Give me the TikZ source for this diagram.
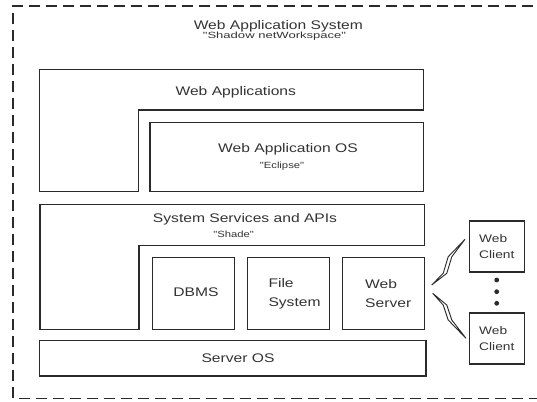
\documentclass[tikz,border=0pt]{standalone}
\usepackage{fontspec}
\setmainfont{Liberation Sans}
\newfontfamily\widefont[FakeStretch=1.25]{Liberation Sans}
\newfontfamily\subfont[FakeStretch=1.45]{Liberation Sans}
\definecolor{ink}{HTML}{2A2A2A}
\definecolor{txt}{HTML}{333333}
\tikzset{
  box/.style={draw=ink, line width=1.5pt, fill=white, inner sep=0pt},
  lshape/.style={draw=ink, line width=1.5pt, fill=white, line join=miter},
  outer/.style={draw=ink, line width=1.5pt, dash pattern=on 11pt off 6pt},
  lbl/.style={text=txt, inner sep=0pt, font=\widefont\fontsize{12.5}{15}\selectfont},
  small/.style={text=txt, inner sep=0pt, font=\widefont\fontsize{9}{10}\selectfont},
  client/.style={text=txt, inner sep=0pt, align=left, font=\widefont\fontsize{11}{15.5}\selectfont},
  bolt/.style={draw=ink, line width=0.9pt, fill=white, line join=miter},
  dotb/.style={fill=ink, draw=none}
}
\begin{document}
\begin{tikzpicture}[x=1pt,y=-1pt]
\useasboundingbox (0,0) rectangle (537,401);
\clip (0,0) rectangle (537,401);
\draw[outer] (550,6) -- (13,6) -- (13,398.5) -- (550,398.5);

% titles
\node[lbl] (title) at (278.3,26) {Web Application System};
\node[text=txt, inner sep=0pt, font=\subfont\fontsize{9}{10}\selectfont] (subtitle) at (274.5,36) {"Shadow netWorkspace"};

% Web Applications L-shape
\draw[lshape] (39.7,69.7) -- (423.3,69.7) -- (423.3,110) -- (138.5,110) -- (138.5,191.7) -- (39.7,191.7) -- cycle;
\node[lbl] (wapps) at (235.8,92.5) {Web Applications};

% Web Application OS
\node[box, minimum width=273.3pt, minimum height=69pt] (waos) at (286.65,157.2) {};
\node[lbl] (waost) at (288,149.5) {Web Application OS};
\node[small] (eclipse) at (282,166) {"Eclipse"};

% System services L-shape
\draw[lshape] (40,204.3) -- (424.3,204.3) -- (424.3,245.7) -- (139,245.7) -- (139,329.3) -- (40,329.3) -- cycle;
\node[lbl] (ss) at (245,219) {System Services and APIs};
\node[small] (shade) at (233.6,234.5) {"Shade"};

% inner boxes
\node[box, minimum width=81.6pt, minimum height=71.8pt] (dbms) at (193.5,293.4) {};
\node[lbl] (dbmst) at (196,292.5) {DBMS};
\node[box, minimum width=82pt, minimum height=71.8pt] (fs) at (288.3,293.4) {};
\node[lbl, align=left, anchor=west, font=\widefont\fontsize{12.5}{18.7}\selectfont] (fst) at (268.3,293.5) {File\\System};
\node[box, minimum width=81.6pt, minimum height=71.8pt] (ws) at (383.5,293.4) {};
\node[lbl, align=left, anchor=west, font=\widefont\fontsize{12.5}{18.7}\selectfont] (wst) at (365,293.5) {Web\\Server};

% Server OS
\node[box, minimum width=386.7pt, minimum height=35.5pt] (sos) at (232.65,358.25) {};
\node[lbl] (sost) at (238,358) {Server OS};

% Web clients
\node[box, minimum width=55pt, minimum height=51pt] (wc1) at (496.8,246.5) {};
\node[client] (wc1t) at (496.8,246.5) {Web\\Client};
\node[box, minimum width=55pt, minimum height=51pt] (wc2) at (496.8,338.5) {};
\node[client] (wc2t) at (496.8,338.5) {Web\\Client};

% dots
\fill[dotb] (496.7,280) circle (2.4);
\fill[dotb] (496.7,291.7) circle (2.4);
\fill[dotb] (496.7,303.3) circle (2.4);

% lightning connectors
\coordinate (b1s) at (431.7,285);
\coordinate (b1e) at (465,239.3);
\coordinate (b2s) at (432.7,293.3);
\coordinate (b2e) at (466,338.3);
\draw[bolt] (b1s) -- (443.2,273.3) -- (448.2,256.7) -- (b1e) -- (451.8,256.7) -- (446.8,273.3) -- cycle;
\draw[bolt] (b2s) -- (443.2,305) -- (448.2,320) -- (b2e) -- (451.8,320) -- (446.8,305) -- cycle;
\end{tikzpicture}
\end{document}
